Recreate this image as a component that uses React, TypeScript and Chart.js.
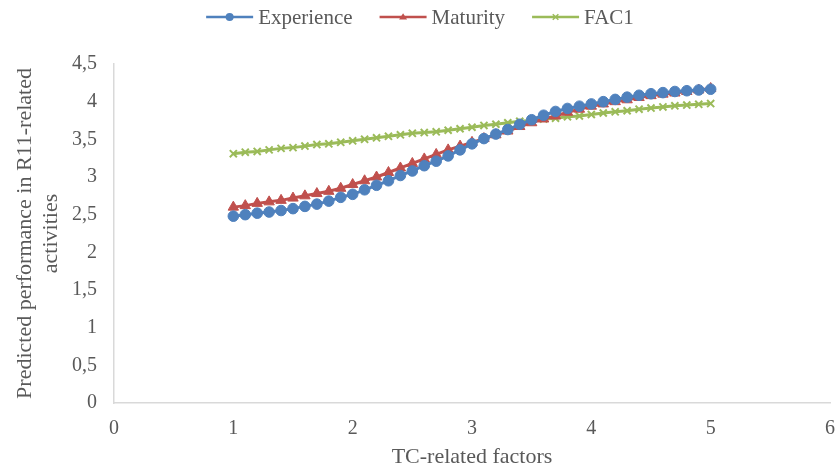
import React, { useEffect, useRef } from "react";
import { Chart, registerables } from "chart.js";

Chart.register(...registerables);

const xValues = [
  1.0, 1.1, 1.2, 1.3, 1.4, 1.5, 1.6, 1.7, 1.8, 1.9,
  2.0, 2.1, 2.2, 2.3, 2.4, 2.5, 2.6, 2.7, 2.8, 2.9,
  3.0, 3.1, 3.2, 3.3, 3.4, 3.5, 3.6, 3.7, 3.8, 3.9,
  4.0, 4.1, 4.2, 4.3, 4.4, 4.5, 4.6, 4.7, 4.8, 4.9,
  5.0,
];

const experience = [
  2.48, 2.5, 2.52, 2.535, 2.555, 2.58, 2.61, 2.64, 2.68, 2.73,
  2.77, 2.83, 2.89, 2.95, 3.02, 3.08, 3.15, 3.21, 3.28, 3.36,
  3.44, 3.51, 3.57, 3.63, 3.7, 3.76, 3.82, 3.87, 3.91, 3.94,
  3.97, 4.0, 4.03, 4.06, 4.085, 4.105, 4.12, 4.135, 4.145, 4.155,
  4.165,
];

const maturity = [
  2.6, 2.62, 2.65, 2.67, 2.69, 2.72, 2.75, 2.78, 2.81, 2.85,
  2.9, 2.95, 3.0, 3.06, 3.12, 3.18, 3.24, 3.3, 3.36, 3.41,
  3.46, 3.51, 3.56, 3.61, 3.67, 3.72, 3.77, 3.81, 3.86, 3.9,
  3.94, 3.97, 4.0, 4.025, 4.055, 4.08, 4.1, 4.115, 4.135, 4.155,
  4.175,
];

const fac1 = [
  3.31, 3.33, 3.34, 3.36, 3.38, 3.39, 3.41, 3.43, 3.44, 3.46,
  3.48, 3.5, 3.52, 3.54, 3.56, 3.58, 3.59, 3.6, 3.62, 3.64,
  3.66, 3.685, 3.7, 3.72, 3.74, 3.75, 3.77, 3.78, 3.8, 3.81,
  3.83, 3.85, 3.865, 3.88, 3.9, 3.915, 3.93, 3.945, 3.955, 3.965,
  3.975,
];

const seriesNames = ["Experience", "Maturity", "FAC1"];
const xTitle = "TC-related factors";
const yTitle = ["Predicted performance in R11-related", "activities"];

const FONT = "'Liberation Serif', 'Times New Roman', serif";
const TEXT = "#595959";
const AXIS = "#D9D9D9";

function drawMarker(ctx: CanvasRenderingContext2D, style: string, x: number, y: number, r: number, color: string) {
  ctx.save();
  ctx.fillStyle = color;
  ctx.strokeStyle = color;
  ctx.beginPath();
  if (style === "circle") {
    ctx.arc(x, y, r, 0, Math.PI * 2);
    ctx.fill();
  } else if (style === "triangle") {
    const h = r * 1.6;
    ctx.moveTo(x, y - h * 0.6);
    ctx.lineTo(x + r, y + h * 0.4);
    ctx.lineTo(x - r, y + h * 0.4);
    ctx.closePath();
    ctx.fill();
  } else {
    ctx.lineWidth = 1.5;
    const d = r * 0.7;
    ctx.moveTo(x - d, y - d);
    ctx.lineTo(x + d, y + d);
    ctx.moveTo(x + d, y - d);
    ctx.lineTo(x - d, y + d);
    ctx.stroke();
  }
  ctx.restore();
}

const lineLegend = {
  id: "lineLegend",
  afterDraw(chart: any) {
    const ctx = chart.ctx as CanvasRenderingContext2D;
    ctx.save();
    ctx.font = `21px ${FONT}`;
    const lineLen = 47;
    const gapText = 5;
    const gapItem = 27;
    const items = chart.data.datasets.map((ds: any) => ({ ds, w: ctx.measureText(ds.label).width }));
    const total =
      items.reduce((s: number, it: any) => s + lineLen + gapText + it.w, 0) + gapItem * (items.length - 1);
    let x = chart.width / 2 - total / 2;
    const y = 17;
    items.forEach(({ ds, w }: any) => {
      ctx.strokeStyle = ds.borderColor;
      ctx.lineWidth = 2.5;
      ctx.beginPath();
      ctx.moveTo(x, y);
      ctx.lineTo(x + lineLen, y);
      ctx.stroke();
      drawMarker(ctx, ds.pointStyle, x + lineLen / 2, y, 4, ds.borderColor);
      ctx.fillStyle = TEXT;
      ctx.textBaseline = "middle";
      ctx.textAlign = "left";
      ctx.fillText(ds.label, x + lineLen + gapText, y + 1);
      x += lineLen + gapText + w + gapItem;
    });
    ctx.restore();
  },
};

export default function App() {
  const canvasRef = useRef<HTMLCanvasElement | null>(null);

  useEffect(() => {
    document.body.style.margin = "0";
    const canvas = canvasRef.current;
    if (!canvas) return;

    const toPoints = (vals: number[]) => vals.map((v, i) => ({ x: xValues[i], y: v }));

    const chart = new Chart(canvas, {
      type: "line",
      data: {
        datasets: [
          {
            label: seriesNames[0],
            data: toPoints(experience),
            borderColor: "#4F81BD",
            backgroundColor: "#4F81BD",
            pointStyle: "circle",
            pointRadius: 5.3,
            pointBorderWidth: 1,
            borderWidth: 3,
            tension: 0,
          },
          {
            label: seriesNames[1],
            data: toPoints(maturity),
            borderColor: "#C0504D",
            backgroundColor: "#C0504D",
            pointStyle: "triangle",
            pointRadius: 6,
            pointBorderWidth: 1,
            borderWidth: 3,
            tension: 0,
          },
          {
            label: seriesNames[2],
            data: toPoints(fac1),
            borderColor: "#9BBB59",
            backgroundColor: "#9BBB59",
            pointStyle: "crossRot",
            pointRadius: 5,
            pointBorderWidth: 2,
            borderWidth: 3,
            tension: 0,
          },
        ] as any,
      },
      options: {
        animation: false,
        responsive: false,
        maintainAspectRatio: false,
        layout: { padding: { top: 64, right: 10, left: 0, bottom: 0 } },
        plugins: {
          legend: { display: false },
          tooltip: { enabled: false },
        },
        scales: {
          x: {
            type: "linear",
            min: 0,
            max: 6,
            ticks: {
              stepSize: 1,
              color: TEXT,
              font: { family: FONT, size: 20 },
              padding: 14,
              maxRotation: 0,
            },
            grid: { display: false, drawTicks: false },
            border: { display: true, color: AXIS, width: 1.5 },
            title: {
              display: true,
              text: xTitle,
              color: TEXT,
              font: { family: FONT, size: 22 },
              padding: { top: 4, bottom: 5 },
            },
            afterFit: (scale: any) => {
              scale.height = 72;
              scale.paddingRight = 0;
              scale.paddingLeft = 0;
            },
          },
          y: {
            type: "linear",
            min: 0,
            max: 4.5,
            ticks: {
              stepSize: 0.5,
              color: TEXT,
              font: { family: FONT, size: 20 },
              padding: 17,
              callback: (v: any) => String(v).replace(".", ","),
            },
            grid: { display: false, drawTicks: false },
            border: { display: true, color: AXIS, width: 1.5 },
            title: {
              display: true,
              text: yTitle,
              color: TEXT,
              font: { family: FONT, size: 22 },
              padding: { top: 12, bottom: 0 },
            },
            afterFit: (scale: any) => {
              scale.width = 114;
            },
          },
        },
      } as any,
      plugins: [lineLegend],
    });

    return () => chart.destroy();
  }, []);

  return (
    <div style={{ width: 840, height: 475, background: "#fff" }}>
      <canvas ref={canvasRef} width={840} height={475} style={{ display: "block" }} />
    </div>
  );
}
